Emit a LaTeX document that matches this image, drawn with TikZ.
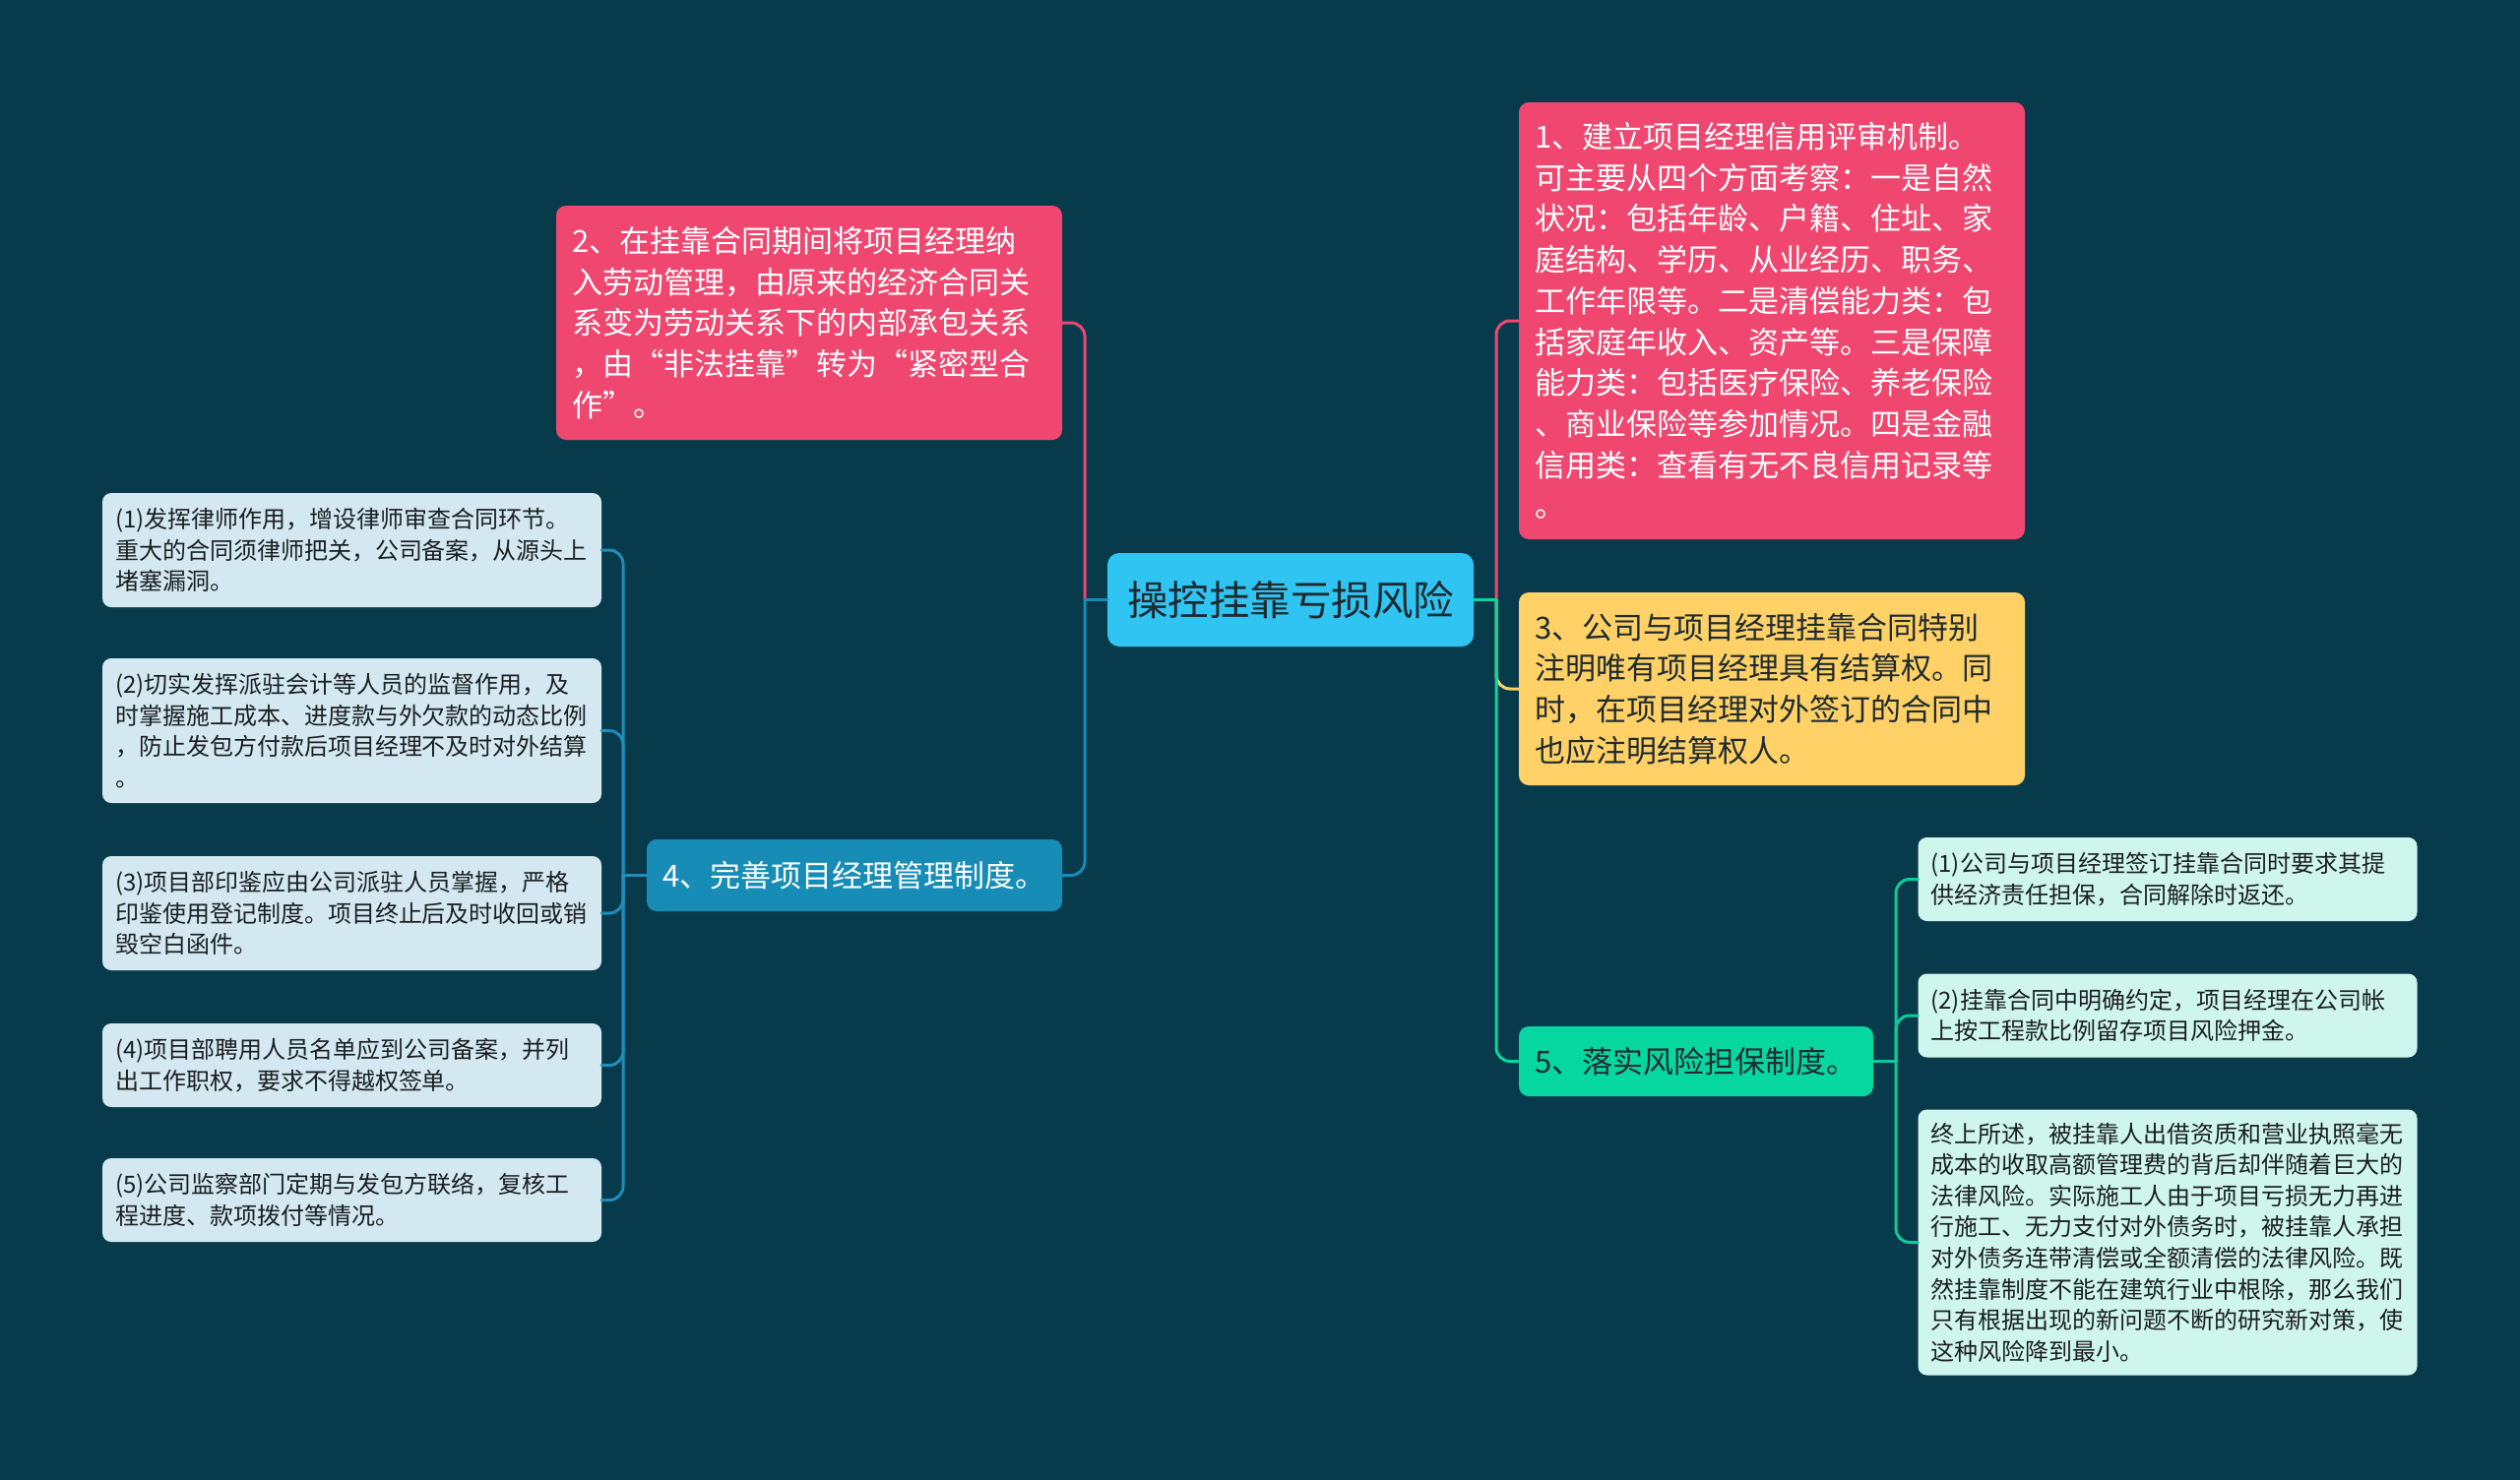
\documentclass[tikz,border=0pt]{standalone}
\usepackage{fontspec}
\setmainfont{Noto Sans CJK SC}
\definecolor{bgc}{HTML}{073B4C}
\definecolor{pinkc}{HTML}{EF476F}
\definecolor{yellowc}{HTML}{FFD166}
\definecolor{greenc}{HTML}{06D6A0}
\definecolor{bluec}{HTML}{168CB6}
\definecolor{centerc}{HTML}{30C4F3}
\definecolor{leafbl}{HTML}{D3E8F0}
\definecolor{leafgr}{HTML}{CFF6EC}
\definecolor{darktxt}{HTML}{1E2B30}
\definecolor{leaftxt}{HTML}{1A1F22}
\definecolor{linebl}{HTML}{1E8DB8}
\definecolor{linegr}{HTML}{0BCB9A}
\begin{document}
\begin{tikzpicture}[x=1pt,y=-1pt,
  box/.style={rounded corners=10pt, inner ysep=0pt, align=left, anchor=center},
  lone/.style={box, inner xsep=16pt, font=\fontsize{31pt}{41.7pt}\selectfont},
  leaf/.style={box, rounded corners=9pt, inner xsep=13pt, minimum width=507pt, text width=481pt,
               text=leaftxt, font=\fontsize{24pt}{31.6pt}\selectfont},
  leafl/.style={leaf, fill=leafbl},
  leafr/.style={leaf, fill=leafgr},
  conn/.style={line width=3pt, line cap=round},
  elbow/.style={conn, rounded corners=14pt}]
\fill[bgc] (0,0) rectangle (2560,1504);

% central
\node[box, rounded corners=12pt, fill=centerc, text=darktxt, align=center, inner xsep=0pt,
      minimum width=372pt, minimum height=95pt, font=\fontsize{41.5pt}{50pt}\selectfont]
      (c) at (1311,609.5) {操控挂靠亏损风险};

% level one
\node[lone, fill=pinkc, text=white, minimum width=514pt, text width=482pt, minimum height=444pt]
  (n1) at (1800,326) {1、建立项目经理信用评审机制。\\可主要从四个方面考察：一是自然\\状况：包括年龄、户籍、住址、家\\庭结构、学历、从业经历、职务、\\工作年限等。二是清偿能力类：包\\括家庭年收入、资产等。三是保障\\能力类：包括医疗保险、养老保险\\、商业保险等参加情况。四是金融\\信用类：查看有无不良信用记录等\\。};
\node[lone, fill=pinkc, text=white, minimum width=514pt, text width=482pt, minimum height=238pt]
  (n2) at (822,328) {2、在挂靠合同期间将项目经理纳\\入劳动管理，由原来的经济合同关\\系变为劳动关系下的内部承包关系\\，由“非法挂靠”转为“紧密型合\\作”。};
\node[lone, fill=yellowc, text=darktxt, minimum width=514pt, text width=482pt, minimum height=196pt]
  (n3) at (1800,700) {3、公司与项目经理挂靠合同特别\\注明唯有项目经理具有结算权。同\\时，在项目经理对外签订的合同中\\也应注明结算权人。};
\node[lone, fill=bluec, text=white, minimum width=422pt, text width=390pt, minimum height=73pt]
  (n4) at (868,889.5) {4、完善项目经理管理制度。};
\node[lone, fill=greenc, text=darktxt, minimum width=360pt, text width=328pt, minimum height=71pt]
  (n5) at (1723,1078.5) {5、落实风险担保制度。};

% left leaves
\node[leafl, minimum height=116pt] (l1) at (357.5,559)
  {(1)发挥律师作用，增设律师审查合同环节。\\重大的合同须律师把关，公司备案，从源头上\\堵塞漏洞。};
\node[leafl, minimum height=147pt] (l2) at (357.5,742.5)
  {(2)切实发挥派驻会计等人员的监督作用，及\\时掌握施工成本、进度款与外欠款的动态比例\\，防止发包方付款后项目经理不及时对外结算\\。};
\node[leafl, minimum height=116pt] (l3) at (357.5,928)
  {(3)项目部印鉴应由公司派驻人员掌握，严格\\印鉴使用登记制度。项目终止后及时收回或销\\毁空白函件。};
\node[leafl, minimum height=85pt] (l4) at (357.5,1082.5)
  {(4)项目部聘用人员名单应到公司备案，并列\\出工作职权，要求不得越权签单。};
\node[leafl, minimum height=85pt] (l5) at (357.5,1219.5)
  {(5)公司监察部门定期与发包方联络，复核工\\程进度、款项拨付等情况。};

% right leaves
\node[leafr, minimum height=85pt] (r1) at (2202,893.5)
  {(1)公司与项目经理签订挂靠合同时要求其提\\供经济责任担保，合同解除时返还。};
\node[leafr, minimum height=85pt] (r2) at (2202,1032)
  {(2)挂靠合同中明确约定，项目经理在公司帐\\上按工程款比例留存项目风险押金。};
\node[leafr, minimum height=270pt] (r3) at (2202,1262.5)
  {终上所述，被挂靠人出借资质和营业执照毫无\\成本的收取高额管理费的背后却伴随着巨大的\\法律风险。实际施工人由于项目亏损无力再进\\行施工、无力支付对外债务时，被挂靠人承担\\对外债务连带清偿或全额清偿的法律风险。既\\然挂靠制度不能在建筑行业中根除，那么我们\\只有根据出现的新问题不断的研究新对策，使\\这种风险降到最小。};

% trunk points
\coordinate (lt) at (1102,609.5);
\coordinate (rt) at (1520,609.5);
\coordinate (lt4) at (633,889.5);
\coordinate (rt5) at (1926,1078.5);

% central connectors
\draw[elbow, pinkc] (lt) |- (n2.east);
\draw[elbow, bluec] (lt) |- (n4.east);
\draw[conn, bluec] (c.west) -- (lt);
\draw[elbow, pinkc] (rt) |- (n1.west);
\draw[elbow, yellowc] (rt) |- (n3.west);
\draw[elbow, greenc] (rt) |- (n5.west);
\draw[conn, greenc] (c.east) -- (rt);

% leaf connectors
\draw[conn, linebl] (n4.west) -- (lt4);
\foreach \k in {l1,l2,l3,l4,l5} \draw[elbow, linebl] (lt4) |- (\k.east);
\draw[conn, linegr] (n5.east) -- (rt5);
\foreach \k in {r1,r2,r3} \draw[elbow, linegr] (rt5) |- (\k.west);
\end{tikzpicture}
\end{document}
